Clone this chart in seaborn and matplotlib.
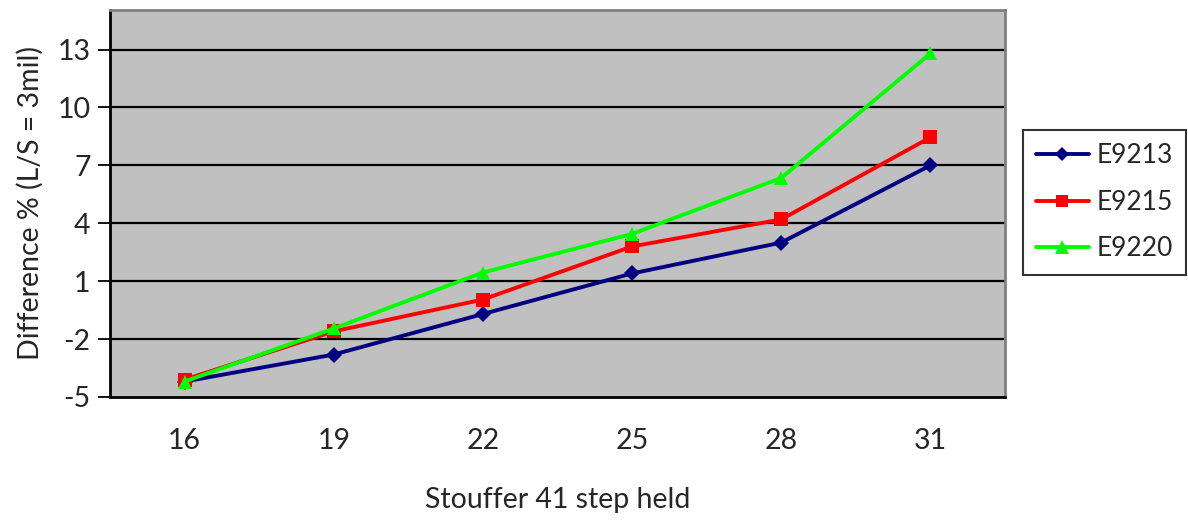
import matplotlib
matplotlib.use("Agg")
import matplotlib.pyplot as plt
from matplotlib.lines import Line2D
import numpy as np
import pandas as pd
import seaborn as sns

# Step held on the Stouffer 41 wedge
steps = ["16", "19", "22", "25", "28", "31"]

# Percent difference at L/S = 3 mil for each material
e9213 = [-4.2, -2.8, -0.7, 1.4, 3.0, 7.0]
e9215 = [-4.1, -1.6, 0.05, 2.8, 4.2, 8.45]
e9220 = [-4.2, -1.45, 1.45, 3.45, 6.35, 12.8]

series_names = ["E9213", "E9215", "E9220"]
y_ticks = [-5, -2, 1, 4, 7, 10, 13]

colors = {"E9213": "#000080", "E9215": "#FF0000", "E9220": "#00FF00"}
markers = {"E9213": "D", "E9215": "s", "E9220": "^"}
msize = {"E9213": 8, "E9215": 9.5, "E9220": 10.5}

rows = []
for name, vals in zip(series_names, [e9213, e9215, e9220]):
    for i, v in enumerate(vals):
        rows.append({"pos": i, "value": v, "series": name})
df = pd.DataFrame(rows)

sns.set_theme(style="white")
plt.rcParams["font.family"] = ["Lato", "DejaVu Sans"]
FS = 20.5

fig = plt.figure(figsize=(11.88, 5.20), dpi=100)
ax = fig.add_axes([110 / 1188, 1 - 397 / 520, (1005 - 110) / 1188, (397 - 10) / 520])
ax.set_facecolor("#C0C0C0")

sns.lineplot(data=df, x="pos", y="value", hue="series", style="series",
             palette=colors, markers=markers, dashes=False, linewidth=2.8,
             markeredgewidth=0, ax=ax, legend=False, zorder=3)
# per-series marker sizes
for line, name in zip(ax.get_lines(), series_names):
    line.set_markersize(msize[name])

ax.set_xlim(-0.5, len(steps) - 0.5)
ax.set_ylim(-5, 15.05)

# horizontal gridlines
ax.set_yticks(y_ticks)
ax.set_yticklabels([str(t) for t in y_ticks], fontsize=FS)
for t in y_ticks[1:]:
    ax.axhline(t, color="black", lw=1.6, zorder=1)

# category labels at centres, tick marks on the boundaries
ax.set_xticks(np.arange(len(steps)))
ax.set_xticklabels(steps, fontsize=FS)
ax.tick_params(axis="x", which="major", length=0, pad=22)
ax.set_xticks(np.arange(-0.5, len(steps)), minor=True)
ax.tick_params(axis="x", which="minor", direction="out", length=9, width=1.3, color="black")
ax.tick_params(axis="y", direction="out", length=9, width=1.3, color="black", left=True, pad=5)

for side in ["left", "bottom"]:
    ax.spines[side].set_color("black")
    ax.spines[side].set_linewidth(2)
for side in ["top", "right"]:
    ax.spines[side].set_color("#808080")
    ax.spines[side].set_linewidth(2)

ax.set_xlabel("Stouffer 41 step held", fontsize=FS, labelpad=24)
ax.set_ylabel("Difference % (L/S = 3mil)", fontsize=FS, labelpad=10)

# legend, right-aligned at the figure edge
handles = [Line2D([0], [0], color=colors[n], marker=markers[n], lw=2.8,
                  markersize=msize[n] * 0.9, markeredgewidth=0) for n in series_names]
leg = fig.legend(handles, series_names, loc="upper right",
                 bbox_to_anchor=(1186 / 1188, 1 - 130 / 520), fontsize=19,
                 frameon=True, fancybox=False, handlelength=2.0,
                 borderpad=0.5, labelspacing=0.82, handletextpad=0.3,
                 borderaxespad=0)
leg.get_frame().set_edgecolor("black")
leg.get_frame().set_linewidth(1.5)

fig.savefig("out.png", dpi=100)
